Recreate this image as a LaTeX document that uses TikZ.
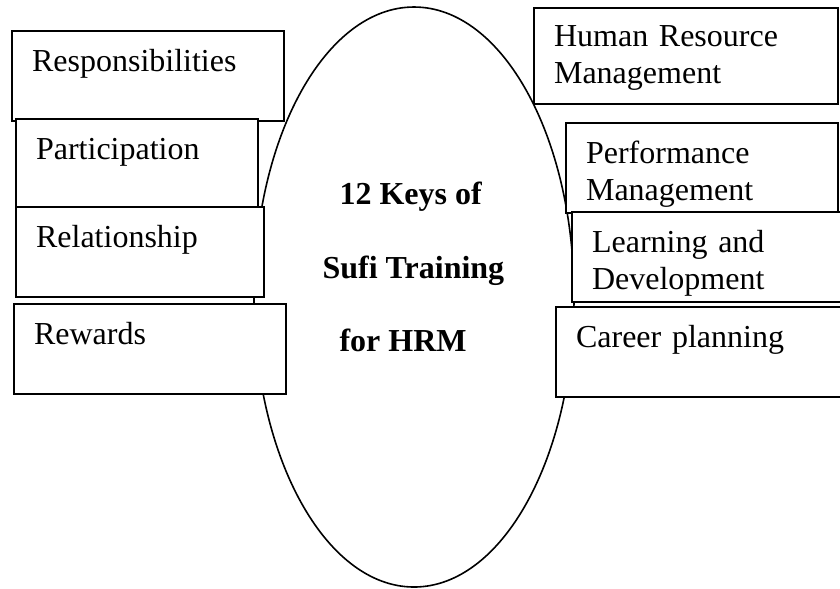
\documentclass[tikz,border=0pt]{standalone}
\usepackage{fontspec}
\setmainfont{Liberation Serif}
\usetikzlibrary{shapes.geometric}

\begin{document}
\begin{tikzpicture}[
    x=0.375pt, y=-0.375pt,
    keybox/.style={rectangle, draw, fill=white, line width=0.8pt, anchor=north west, inner xsep=7.5pt, inner ysep=0pt, text height=15pt, text depth=18.75pt, align=left, font=\fontsize{12}{14}\selectfont},
    hubtext/.style={anchor=base west, inner sep=0pt, font=\fontsize{12}{14}\selectfont\bfseries}
]
    \useasboundingbox (0,0) rectangle (840,588);
    \clip (0,0) rectangle (840,588);

    % central oval and its title
    \node[ellipse, draw, line width=0.6pt, minimum width=120pt, minimum height=217.5pt, inner sep=0pt] (hub) at (414,297) {};
    \node[hubtext] (title1) at (339,204) {12 Keys of};
    \node[hubtext] (title2) at (322,278) {Sufi Training};
    \node[hubtext] (title3) at (339,351) {for HRM};

    % left column
    \node[keybox, text width=87pt] (resp) at (11,30) {Responsibilities};
    \node[keybox, text width=75.75pt] (part) at (15,118) {Participation};
    \node[keybox, text width=78pt] (rel) at (15,206) {Relationship};
    \node[keybox, text width=87pt] (rew) at (13,303) {Rewards};

    % right column
    \node[keybox, text width=99pt, text height=14.25pt, text depth=21.75pt] (hrm) at (533,7) {Human Resource\\Management};
    \node[keybox, text width=87pt] (perf) at (565,122) {Performance\\Management};
    \node[keybox, text width=97.5pt] (learn) at (571,211) {Learning and\\Development};
    \node[keybox, text width=97.5pt] (career) at (555,306) {Career planning};
\end{tikzpicture}
\end{document}
